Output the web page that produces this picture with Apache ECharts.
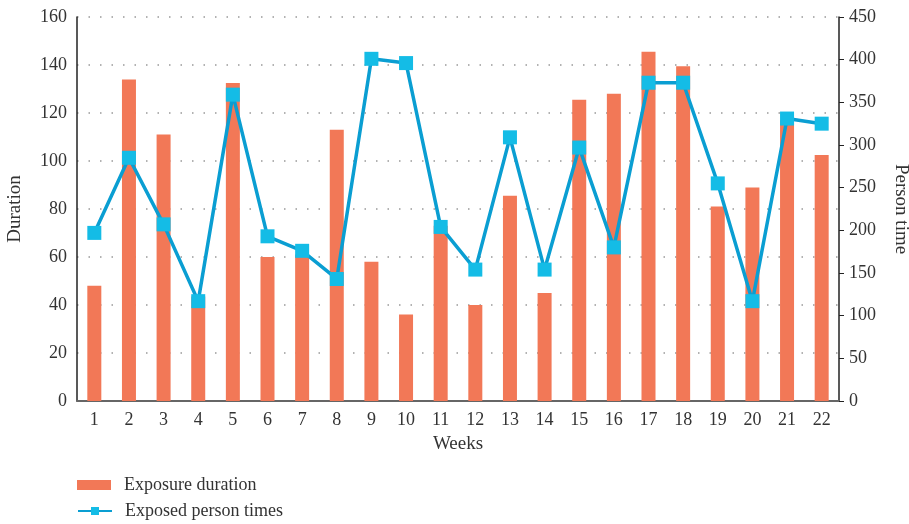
<!DOCTYPE html>
<html>
<head>
<meta charset="utf-8">
<script src="https://cdn.jsdelivr.net/npm/echarts@6/dist/echarts.min.js"></script>
<style>
  html, body { margin: 0; padding: 0; background: #fff; }
  #chart { width: 909px; height: 524px; }
</style>
</head>
<body>
<div id="chart"></div>
<script>
  const weeks = ['1', '2', '3', '4', '5', '6', '7', '8', '9', '10', '11', '12', '13', '14', '15', '16', '17', '18', '19', '20', '21', '22']
  const exposureDuration = [48, 134, 111, 43.5, 132.5, 60, 61, 113, 58, 36, 73, 40, 85.5, 45, 125.5, 128, 145.5, 139.5, 81, 89, 117, 102.5]
  const exposedPersonTimes = [197, 285, 207, 117, 359, 193, 176, 143, 401, 396, 204, 154, 309, 154, 297, 180, 373, 373, 255, 117, 331, 325]

  const font = 'Liberation Serif'
  const textColor = '#333'

  const legendBase = {
    orient: 'vertical',
    left: 77,
    padding: 0,
    itemWidth: 34,
    itemHeight: 10,
    textStyle: { fontFamily: font, fontSize: 18, color: textColor, padding: [0, 0, 0, 8] }
  }

  const chart = echarts.init(document.getElementById('chart'))
  chart.setOption({
    animation: false,
    textStyle: { fontFamily: font },
    grid: { left: 77, right: 70, top: 17, bottom: 123, outerBoundsMode: 'none', containLabel: false },
    legend: [
      Object.assign({}, legendBase, { top: 476, data: [{ name: 'Exposure duration', icon: 'rect' }] }),
      Object.assign({}, legendBase, { top: 502, data: ['Exposed person times'] })
    ],
    xAxis: {
      type: 'category',
      data: weeks,
      name: 'Weeks',
      nameLocation: 'middle',
      nameGap: 34,
      nameTextStyle: { fontFamily: font, fontSize: 19, color: textColor },
      axisLine: { lineStyle: { color: '#666', width: 2 } },
      axisTick: { show: false },
      axisLabel: { fontFamily: font, fontSize: 18, color: textColor, margin: 10 }
    },
    yAxis: [
      {
        type: 'value',
        min: 0,
        max: 160,
        interval: 20,
        name: 'Duration',
        nameLocation: 'middle',
        nameGap: 52,
        nameTextStyle: { fontFamily: font, fontSize: 19, color: textColor },
        axisLine: { show: true, lineStyle: { color: '#222', width: 1.5 } },
        axisTick: { show: false },
        axisLabel: { fontFamily: font, fontSize: 18, color: textColor, margin: 10 },
        splitLine: { show: true, lineStyle: { color: '#999', type: [1.5, 10], width: 1.5 } }
      },
      {
        type: 'value',
        min: 0,
        max: 450,
        interval: 50,
        name: 'Person time',
        nameLocation: 'middle',
        nameGap: 52,
        nameRotate: -90,
        nameTextStyle: { fontFamily: font, fontSize: 19, color: textColor },
        axisLine: { show: true, lineStyle: { color: '#222', width: 1.5 } },
        axisTick: { show: true, length: 5, lineStyle: { color: '#222' } },
        axisLabel: { fontFamily: font, fontSize: 18, color: textColor, margin: 10 },
        splitLine: { show: false }
      }
    ],
    series: [
      {
        name: 'Exposure duration',
        type: 'bar',
        yAxisIndex: 0,
        barWidth: 14,
        itemStyle: { color: '#F27857' },
        data: exposureDuration
      },
      {
        name: 'Exposed person times',
        type: 'line',
        yAxisIndex: 1,
        symbol: 'rect',
        symbolSize: 14,
        lineStyle: { color: '#0A9ED2', width: 3.5 },
        itemStyle: { color: '#14BCE6' },
        data: exposedPersonTimes
      }
    ]
  })
</script>
</body>
</html>
